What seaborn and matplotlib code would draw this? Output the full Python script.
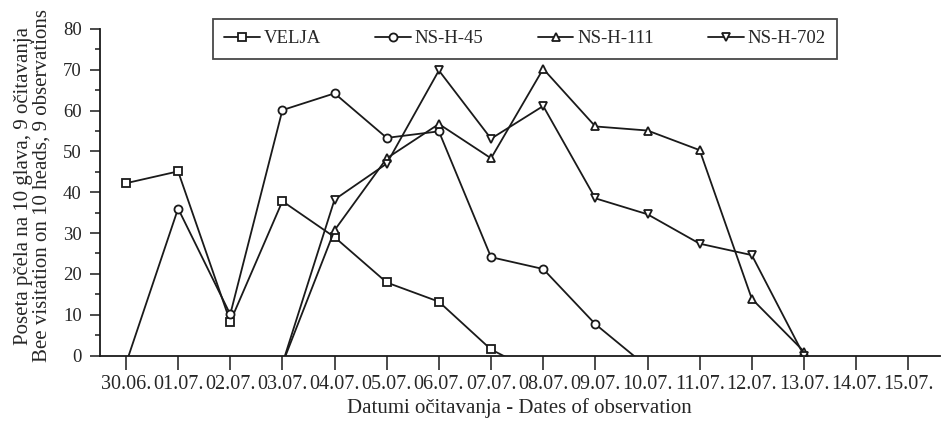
import numpy as np
import pandas as pd
import matplotlib
matplotlib.use("Agg")
import matplotlib.pyplot as plt
import seaborn as sns
from matplotlib.ticker import MultipleLocator

# ---- data ----
dates = ["30.06.", "01.07.", "02.07.", "03.07.", "04.07.", "05.07.", "06.07.", "07.07.",
         "08.07.", "09.07.", "10.07.", "11.07.", "12.07.", "13.07.", "14.07.", "15.07."]
series_names = ["VELJA", "NS-H-45", "NS-H-111", "NS-H-702"]
nan = np.nan
velja    = [42.2, 45.1, 8.3, 37.8, 29.0, 17.9, 13.2, 1.5, -5.0, nan, nan, nan, nan, nan, nan, nan]
ns_h_45  = [-2.0, 36.0, 10.1, 60.1, 64.2, 53.3, 54.9, 24.1, 21.2, 7.7, -2.8, nan, nan, nan, nan, nan]
ns_h_111 = [nan, nan, nan, -2.0, 30.7, 48.3, 56.7, 48.3, 70.2, 56.1, 55.1, 50.3, 13.9, 1.0, nan, nan]
ns_h_702 = [nan, nan, nan, -2.0, 38.2, 47.0, 69.8, 53.1, 61.1, 38.5, 34.6, 27.4, 24.6, 0.0, nan, nan]
markers = ["s", "o", "^", "v"]

rows = []
for name, vals in zip(series_names, [velja, ns_h_45, ns_h_111, ns_h_702]):
    for i, v in enumerate(vals):
        if not np.isnan(v):
            rows.append({"pos": i, "value": v, "series": name})
df = pd.DataFrame(rows)

sns.set_style("ticks")
plt.rcParams["font.family"] = ["Liberation Serif", "DejaVu Serif"]

fig = plt.figure(figsize=(9.51, 4.30), dpi=100)
ax = fig.add_axes([0.105, 0.173, 0.883, 0.760])

sns.lineplot(data=df, x="pos", y="value", hue="series", style="series",
             hue_order=series_names, style_order=series_names,
             palette=["#1a1a1a"] * 4, markers=dict(zip(series_names, markers)),
             dashes=False, errorbar=None, legend=False, ax=ax,
             linewidth=1.3, markersize=5.8, sort=True)

for ln in ax.lines:
    ln.set_markerfacecolor("white")
    ln.set_markeredgecolor("#1a1a1a")
    ln.set_markeredgewidth(1.3)

ax.set_xlim(-0.5, 15.6)
ax.set_ylim(0, 80)
ax.set_xticks(range(len(dates)), labels=dates)
ax.yaxis.set_major_locator(MultipleLocator(10))
ax.yaxis.set_minor_locator(MultipleLocator(5))
ax.tick_params(axis="x", direction="out", length=10, width=1.1, pad=4,
               labelsize=14.5, color="#1a1a1a")
ax.tick_params(axis="y", which="major", direction="out", length=7, width=1.1, pad=6,
               labelsize=13.5, color="#1a1a1a")
ax.tick_params(axis="y", which="minor", direction="out", length=3.5, width=1.1,
               color="#1a1a1a")
for s in ["top", "right"]:
    ax.spines[s].set_visible(False)
for s in ["left", "bottom"]:
    ax.spines[s].set_linewidth(1.3)
    ax.spines[s].set_color("#1a1a1a")

ax.set_xlabel("Datumi očitavanja - Dates of observation", fontsize=15, labelpad=3)
ax.set_ylabel("Poseta pčela na 10 glava, 9 očitavanja\nBee visitation on 10 heads, 9 observations",
              fontsize=15, linespacing=0.95)
ax.yaxis.set_label_coords(-0.058, 0.52)

leg = fig.legend(ax.lines, series_names, loc="upper left",
                 bbox_to_anchor=(0.224, 0.956), bbox_transform=fig.transFigure,
                 ncol=4, frameon=True, fancybox=False, fontsize=13.5,
                 handlelength=1.9, handletextpad=0.2, columnspacing=2.9,
                 borderpad=0.6, borderaxespad=0)
leg.get_frame().set_edgecolor("#1a1a1a")
leg.get_frame().set_linewidth(1.3)

fig.savefig("out.png", dpi=100)
